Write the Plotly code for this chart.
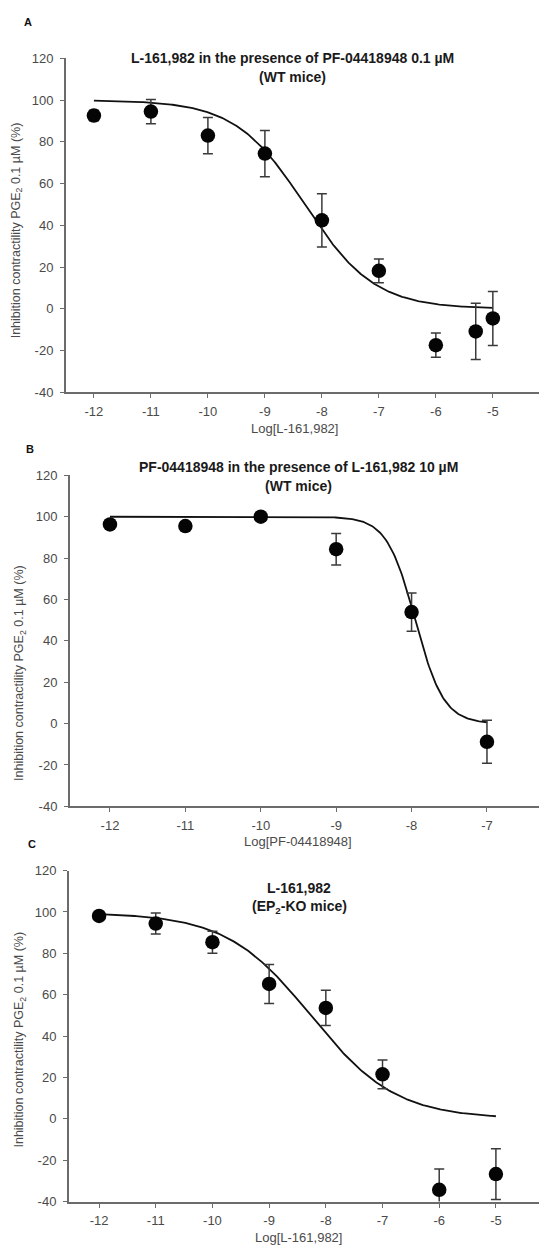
import numpy as np
import plotly.graph_objects as go

W, H = 539, 1259
FONT = "Liberation Sans, Arial, sans-serif"

# ---- Panel A: L-161,982 with PF-04418948 0.1 uM (WT) ----
a_x = [-12, -11, -10, -9, -8, -7, -6, -5.3, -5]
a_y = [92.6, 94.5, 83.0, 74.4, 42.4, 18.2, -17.4, -10.8, -4.6]
a_err = [2.5, 5.8, 8.7, 11.1, 12.8, 5.7, 5.8, 13.5, 12.9]
a_fit = dict(top=100.0, bottom=0.0, logic50=-8.30, hill=0.71, x0=-12, x1=-5)
a_ticks = [-12, -11, -10, -9, -8, -7, -6, -5]

# ---- Panel B: PF-04418948 with L-161,982 10 uM (WT) ----
b_x = [-12, -11, -10, -9, -8, -7]
b_y = [96.3, 95.5, 100.0, 84.3, 53.9, -8.8]
b_err = [2.0, 1.5, 1.0, 7.6, 9.2, 10.4]
b_fit = dict(top=100.0, bottom=0.0, logic50=-7.95, hill=2.3, x0=-12, x1=-7)
b_ticks = [-12, -11, -10, -9, -8, -7]

# ---- Panel C: L-161,982 (EP2-KO) ----
c_x = [-12, -11, -10, -9, -8, -7, -6, -5]
c_y = [98.1, 94.4, 85.4, 65.2, 53.6, 21.5, -34.3, -26.7]
c_err = [1.5, 5.1, 5.3, 9.4, 8.5, 7.0, 10.0, 12.3]
c_fit = dict(top=99.6, bottom=0.0, logic50=-8.26, hill=0.58, x0=-12, x1=-5)
c_ticks = [-12, -11, -10, -9, -8, -7, -6, -5]

y_ticks = [-40, -20, 0, 20, 40, 60, 80, 100, 120]


def hill_curve(p, n=300):
    xs = np.linspace(p["x0"], p["x1"], n)
    ys = p["bottom"] + (p["top"] - p["bottom"]) / (1 + 10 ** ((xs - p["logic50"]) * p["hill"]))
    return xs, ys


def px(x):
    return x / W


def py(y):
    return 1 - y / H


def label(text, x, y, size, color, angle=0):
    return dict(text=text, x=px(x), y=py(y), xref="paper", yref="paper",
                xanchor="center", yanchor="middle", showarrow=False, textangle=angle,
                font=dict(family=FONT, size=size, color=color))


panels = [
    dict(x=a_x, y=a_y, err=a_err, fit=a_fit, ticks=a_ticks,
         xdom=[66, 539], ydom=[52, 390], xr=[-12.49, -4.19],
         letter="A", lpos=(28, 15),
         title=["L-161,982 in the presence of PF-04418948 0.1 µM", "(WT mice)"],
         tpos=(292, 52, 71), xtitle="Log[L-161,982]", xtpos=(294, 427), ytpos=(17, 226)),
    dict(x=b_x, y=b_y, err=b_err, fit=b_fit, ticks=b_ticks,
         xdom=[70, 539], ydom=[474, 809], xr=[-12.53, -6.31],
         letter="B", lpos=(30, 447),
         title=["PF-04418948 in the presence of L-161,982 10 µM", "(WT mice)"],
         tpos=(298, 466, 485), xtitle="Log[PF-04418948]", xtpos=(298, 845), ytpos=(20, 674)),
    dict(x=c_x, y=c_y, err=c_err, fit=c_fit, ticks=c_ticks,
         xdom=[69, 539], ydom=[874, 1209], xr=[-12.53, -4.24],
         letter="C", lpos=(32, 847),
         title=["L-161,982", "(EP<sub>2</sub>-KO mice)"],
         tpos=(299, 892, 911), xtitle="Log[L-161,982]", xtpos=(298, 1245), ytpos=(20, 1045)),
]

fig = go.Figure()
annotations = []
layout = {}

for i, p in enumerate(panels, start=1):
    xa = "x" if i == 1 else f"x{i}"
    ya = "y" if i == 1 else f"y{i}"
    xs, ys = hill_curve(p["fit"])
    fig.add_trace(go.Scatter(x=xs, y=ys, mode="lines", xaxis=xa, yaxis=ya,
                             line=dict(color="#111111", width=1.8), showlegend=False,
                             hoverinfo="skip"))
    fig.add_trace(go.Scatter(x=p["x"], y=p["y"], mode="markers", xaxis=xa, yaxis=ya,
                             marker=dict(color="#050505", size=14.5),
                             error_y=dict(type="data", array=p["err"], visible=True,
                                          color="#3a3a3a", thickness=1.5, width=5),
                             showlegend=False, cliponaxis=False))

    axis_common = dict(showline=True, linecolor="#6b6b6b", linewidth=2, showgrid=False,
                       zeroline=False, ticks="outside", ticklen=4, tickwidth=1.2,
                       tickcolor="#6b6b6b",
                       tickfont=dict(family=FONT, size=13, color="#4a4a4a"))
    layout["xaxis" if i == 1 else f"xaxis{i}"] = dict(
        axis_common, domain=[px(p["xdom"][0]), px(p["xdom"][1])], range=p["xr"],
        anchor=ya, tickmode="array", tickvals=p["ticks"],
        ticktext=[str(t) for t in p["ticks"]], ticklabelstandoff=2)
    layout["yaxis" if i == 1 else f"yaxis{i}"] = dict(
        axis_common, domain=[py(p["ydom"][1]), py(p["ydom"][0])], range=[-40, 120],
        anchor=xa, tickmode="array", tickvals=y_ticks,
        ticktext=[str(t) for t in y_ticks], ticklabelstandoff=4)

    annotations.append(label(f"<b>{p['letter']}</b>", p["lpos"][0], p["lpos"][1], 11, "#111111"))
    for line, yy in zip(p["title"], p["tpos"][1:]):
        annotations.append(label(f"<b>{line}</b>", p["tpos"][0], yy, 14, "#1a1a1a"))
    annotations.append(label(p["xtitle"], p["xtpos"][0], p["xtpos"][1], 13, "#4a4a4a"))
    annotations.append(label("Inhibition contractility PGE<sub>2</sub> 0.1 µM (%)",
                             p["ytpos"][0], p["ytpos"][1], 12.5, "#4a4a4a", angle=-90))

fig.update_layout(width=W, height=H, margin=dict(l=0, r=0, t=0, b=0),
                  paper_bgcolor="white", plot_bgcolor="white",
                  annotations=annotations, **layout)

fig.write_html("out.html")
